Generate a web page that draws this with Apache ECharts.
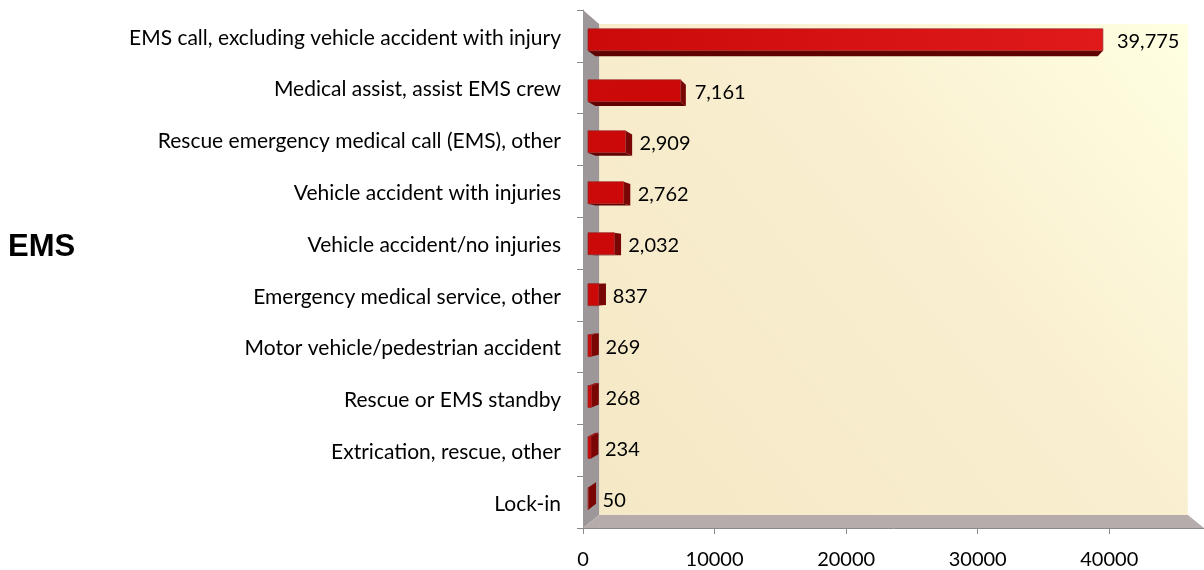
<!DOCTYPE html>
<html>
<head>
<meta charset="utf-8">
<style>
  html, body { margin: 0; padding: 0; background: #fff; }
  #chart { width: 1204px; height: 570px; }
</style>
<script src="https://cdn.jsdelivr.net/npm/echarts@6/dist/echarts.min.js"></script>
</head>
<body>
<div id="chart"></div>
<script>
var categories = [
  'EMS call, excluding vehicle accident with injury',
  'Medical assist, assist EMS crew',
  'Rescue emergency medical call (EMS), other',
  'Vehicle accident with injuries',
  'Vehicle accident/no injuries',
  'Emergency medical service, other',
  'Motor vehicle/pedestrian accident',
  'Rescue or EMS standby',
  'Extrication, rescue, other',
  'Lock-in'
];
var counts = [39775, 7161, 2909, 2762, 2032, 837, 269, 268, 234, 50];
var xTicks = [0, 10000, 20000, 30000, 40000];

var labelFont = 'Lato';
var vp = [893, 279];      // vanishing point of the fake 3D box
var wallScale = 0.948;    // back wall
var barFrontScale = 0.984;
var barBackScale = 0.96;
var barRatio = 0.43;

function project(pt, s) {
  return [vp[0] + (pt[0] - vp[0]) * s, vp[1] + (pt[1] - vp[1]) * s];
}

// 背景墙
function renderWalls(params, api) {
  var c = params.coordSys;
  var fl = c.x, fr = c.x + c.width, ft = c.y, fb = c.y + c.height;
  var tlF = [fl, ft], blF = [fl, fb], brF = [fr, fb];
  var tlB = project(tlF, wallScale), blB = project(blF, wallScale), brB = project(brF, wallScale);
  var trB = project([fr, ft], wallScale);
  return {
    type: 'group',
    silent: true,
    children: [
      { type: 'polygon', shape: { points: [tlB, trB, brB, blB] },
        style: { fill: new echarts.graphic.LinearGradient(0, 1, 1, 0, [
          { offset: 0, color: '#f4e8c6' },
          { offset: 0.55, color: '#f9eecf' },
          { offset: 1, color: '#ffffe2' }
        ]) } },
      { type: 'polygon', shape: { points: [tlF, tlB, blB, blF] }, style: { fill: '#9d9799' } },
      { type: 'polygon', shape: { points: [blF, blB, brB, brF] }, style: { fill: '#b6acac' } }
    ]
  };
}

// 柱子：前面、侧面、上/下面
function renderBar(params, api) {
  var value = api.value(0);
  var cat = api.value(1);
  var start = api.coord([0, cat]);
  var end = api.coord([value, cat]);
  var half = api.size([0, 1])[1] * barRatio / 2;
  function corner(p, dy, s) { return project([p[0], p[1] + dy], s); }
  var f1 = corner(start, -half, barFrontScale), f2 = corner(end, -half, barFrontScale);
  var f3 = corner(end, half, barFrontScale), f4 = corner(start, half, barFrontScale);
  var b1 = corner(start, -half, barBackScale), b2 = corner(end, -half, barBackScale);
  var b3 = corner(end, half, barBackScale), b4 = corner(start, half, barBackScale);
  var children = [];
  // horizontal face: underside above the vanishing point, top side below it
  if (start[1] < vp[1]) {
    children.push({ type: 'polygon', shape: { points: [f4, f3, b3, b4] }, style: { fill: '#5e0202' } });
  } else {
    children.push({ type: 'polygon', shape: { points: [f1, f2, b2, b1] }, style: { fill: '#a01010' } });
  }
  // end face
  if (f2[0] < b2[0]) {
    children.push({ type: 'polygon', shape: { points: [f2, b2, b3, f3] }, style: { fill: '#7a0505' } });
  }
  children.push({
    type: 'polygon',
    shape: { points: [f1, f2, f3, f4] },
    style: {
      fill: new echarts.graphic.LinearGradient(0, 0, 1, 0, [
        { offset: 0, color: '#cc0a0a' },
        { offset: 1, color: value > 20000 ? '#e01a1a' : '#cc0808' }
      ]),
      stroke: 'rgba(150,40,40,0.7)',
      lineWidth: 1
    }
  });
  children.push({
    type: 'text',
    style: {
      x: f2[0] + 14,
      y: (f2[1] + f3[1]) / 2 + 2,
      text: api.value(0).toLocaleString('en-US'),
      font: '20px ' + labelFont,
      fill: '#000',
      verticalAlign: 'middle',
      align: 'left'
    }
  });
  return { type: 'group', children: children };
}

var chart = echarts.init(document.getElementById('chart'), null, { renderer: 'canvas' });
chart.setOption({
  animation: false,
  backgroundColor: '#fff',
  title: {
    text: 'EMS',
    left: 3,
    top: 227,
    textStyle: { fontFamily: 'Liberation Sans', fontSize: 31, fontWeight: 'bold', color: '#000' }
  },
  grid: { left: 583, top: 10, width: 621, height: 519, containLabel: false },
  xAxis: {
    type: 'value',
    min: 0,
    max: 47200,
    interval: 10000,
    splitLine: { show: false },
    axisLine: { show: true, lineStyle: { color: '#8a8a8a', width: 1 } },
    axisTick: { show: true, length: 6, customValues: xTicks, lineStyle: { color: '#8a8a8a' } },
    axisLabel: {
      customValues: xTicks,
      margin: 22,
      color: '#000',
      fontFamily: labelFont,
      fontSize: 20,
      formatter: function (v) { return String(v); }
    }
  },
  yAxis: {
    type: 'category',
    inverse: true,
    data: categories,
    axisLine: { show: true, lineStyle: { color: '#8a8a8a', width: 1 } },
    axisTick: { show: true, length: 6, lineStyle: { color: '#8a8a8a' } },
    axisLabel: { margin: 22, color: '#000', fontFamily: labelFont, fontSize: 21, interval: 0, verticalAlign: 'top', lineHeight: 4 }
  },
  series: [
    { type: 'custom', renderItem: renderWalls, data: [[0, 0]], z: 1, clip: false, silent: true },
    {
      type: 'custom',
      renderItem: renderBar,
      encode: { x: 0, y: 1 },
      data: counts.map(function (v, i) { return [v, i]; }),
      z: 3,
      clip: false,
      silent: true
    }
  ]
});
window.addEventListener('resize', function () { chart.resize(); });
</script>
</body>
</html>
